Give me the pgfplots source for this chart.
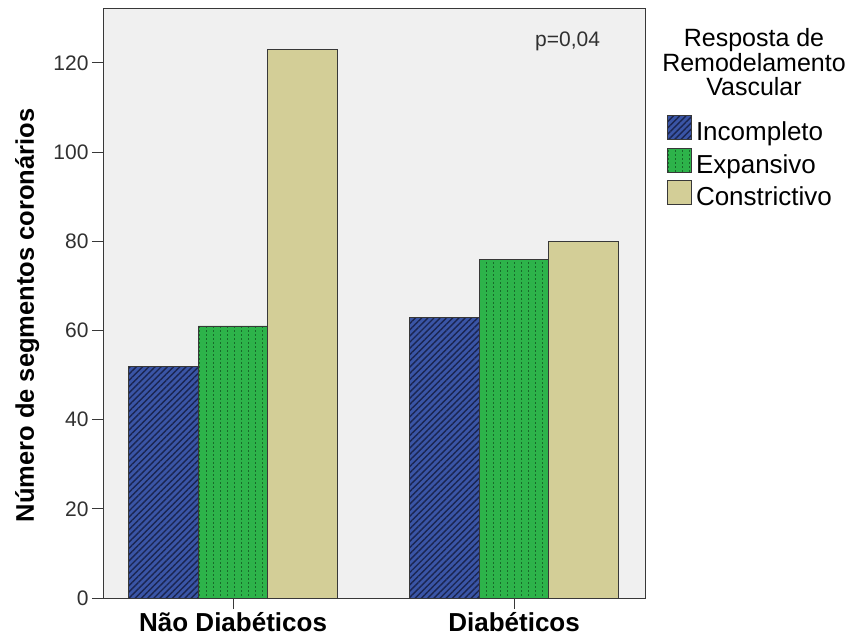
\documentclass[border=0pt]{standalone}
\usepackage{pgfplots}
\pgfplotsset{compat=1.18}
\usetikzlibrary{patterns,patterns.meta}
\usepackage{fontspec}
\setmainfont{Liberation Sans}

\definecolor{panelbg}{HTML}{F0F0F0}
\definecolor{incblue}{HTML}{3A55A6}
\definecolor{inchatch}{HTML}{1A2550}
\definecolor{expgreen}{HTML}{2DB34A}
\definecolor{expdots}{HTML}{186A2A}
\definecolor{conkhaki}{HTML}{D3CE97}
\definecolor{edgegray}{HTML}{383838}
\definecolor{ticktext}{HTML}{303030}

% short vertical dashes in columns
\pgfdeclarepatternformonly{vdashes}{\pgfqpoint{-1pt}{-1pt}}{\pgfqpoint{8pt}{5pt}}{\pgfqpoint{7pt}{4pt}}{%
  \pgfpathrectangle{\pgfqpoint{3pt}{0pt}}{\pgfqpoint{1.3pt}{2.2pt}}%
  \pgfusepath{fill}}

\begin{document}
\begin{tikzpicture}
\path[use as bounding box] (-103pt,-42pt) rectangle (748pt,598pt);
\begin{axis}[
  at={(0pt,0pt)}, anchor=south west,
  scale only axis, width=542pt, height=590pt,
  clip=false,
  ybar=0pt, bar width=69.5pt,
  xmin=-0.463, xmax=1.466, ymin=0, ymax=132.3,
  xtick={0,1}, xticklabels={Não Diabéticos,Diabéticos},
  ytick={0,20,...,120},
  xtick pos=bottom, ytick pos=left,
  tick align=outside,
  major tick length=11pt,
  tick style={color=edgegray, line width=0.9pt},
  axis line style={color=edgegray, line width=0.9pt},
  axis background/.style={fill=panelbg},
  y tick label style={font=\fontsize{21}{24}\selectfont, text=ticktext},
  x tick label style={font=\fontsize{26}{30}\selectfont\bfseries, text=black},
  yticklabel style={/pgf/number format/assume math mode=true},
  ylabel={Número de segmentos coronários},
  every axis y label/.style={at={(axis description cs:-0.140,0.479)}, rotate=90, anchor=center,
    font=\fontsize{25.5}{30}\selectfont\bfseries},
  legend image code/.code={\draw[#1,line width=0.8pt] (0pt,-6pt) rectangle (24pt,18pt);},
  legend style={at={(rel axis cs:1.0406,0.8186)}, anchor=north west, draw=none, fill=none,
    inner sep=0pt, row sep=2pt, column sep=4pt,
    font=\fontsize{26}{30}\selectfont,
    nodes={text height=19pt, text depth=5pt, inner sep=0pt}},
  legend cell align=left,
]
\addplot[fill=incblue, draw=edgegray, line width=0.8pt,
  postaction={pattern={Lines[angle=45,distance=4.4pt,line width=1.4pt]}, pattern color=inchatch}]
  coordinates {(0,52) (1,63)};
\addplot[fill=expgreen, draw=edgegray, line width=0.8pt,
  postaction={pattern=vdashes, pattern color=expdots}]
  coordinates {(0,61) (1,76)};
\addplot[fill=conkhaki, draw=edgegray, line width=0.8pt]
  coordinates {(0,123) (1,80)};
\legend{Incompleto,Expansivo,Constrictivo}

\node[anchor=base west, inner sep=0pt, font=\fontsize{21}{24}\selectfont, text=ticktext]
  at (rel axis cs:0.797,0.9339) {p=0,04};
\node[anchor=base, inner sep=0pt, font=\fontsize{25}{28}\selectfont]
  at (rel axis cs:1.2011,0.9339) {Resposta de};
\node[anchor=base, inner sep=0pt, font=\fontsize{25}{28}\selectfont]
  at (rel axis cs:1.2011,0.8932) {Remodelamento};
\node[anchor=base, inner sep=0pt, font=\fontsize{25}{28}\selectfont]
  at (rel axis cs:1.2011,0.8525) {Vascular};
\end{axis}
\end{tikzpicture}
\end{document}
